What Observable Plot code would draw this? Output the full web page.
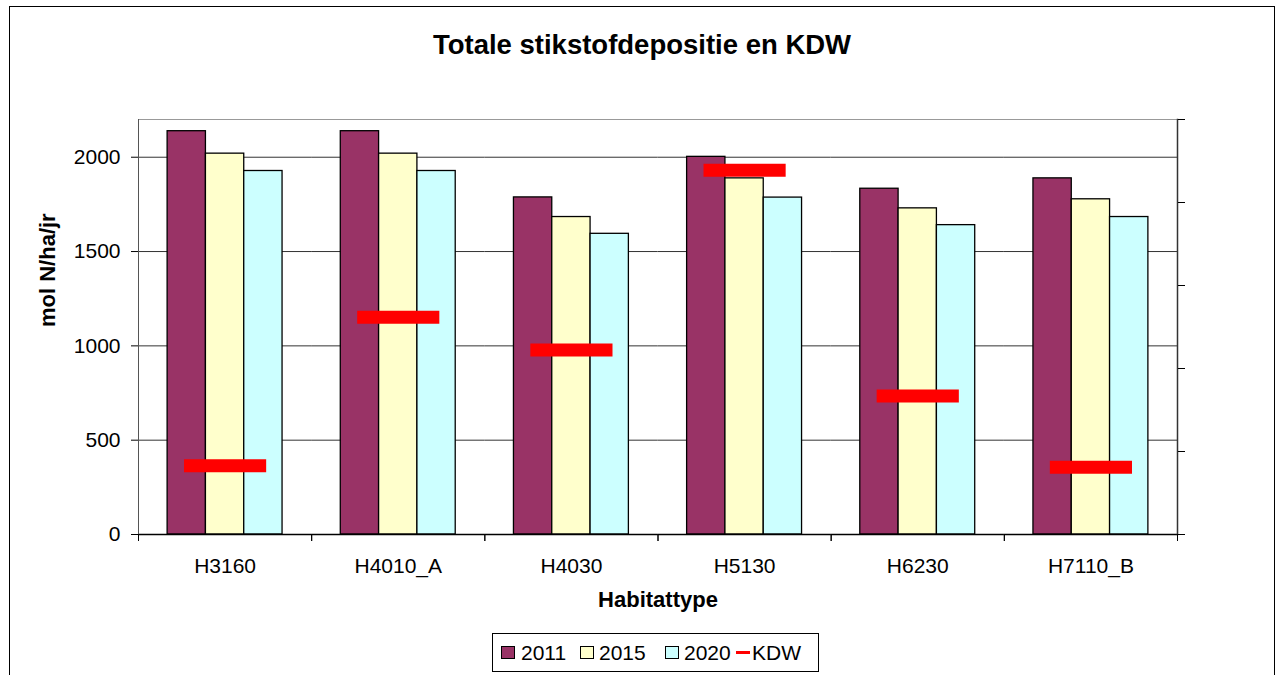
<!DOCTYPE html>
<html>
<head>
<meta charset="utf-8">
<script src="https://cdn.jsdelivr.net/npm/d3@7"></script>
<script src="https://cdn.jsdelivr.net/npm/@observablehq/plot@0.6"></script>
<style>
  body { margin: 0; background: #fff; font-family: "Liberation Sans", Arial, sans-serif; }
  #wrap { position: relative; width: 1276px; height: 675px; overflow: hidden; background: #fff; }
  #border { position: absolute; left: 9px; top: 6px; width: 1264px; height: 720px; border: 1.5px solid #000; }
  #title { position: absolute; left: 9px; width: 1266px; top: 31px; text-align: center; font-weight: bold; font-size: 27.5px; line-height: 1; color: #000; }
  #chart { position: absolute; left: 0; top: 0; }
  #legend { position: absolute; left: 492px; top: 633px; width: 327px; height: 39px; border: 1px solid #000; box-sizing: border-box; background: #fff; }
  #legend .it { position: absolute; top: 0; height: 100%; display: flex; align-items: center; }
  #legend .sw { width: 12px; height: 11px; border: 1px solid #000; }
  #legend .ln { width: 14px; height: 3px; background: #ff0000; }
  #legend .tx { font-size: 21px; color: #000; }
</style>
</head>
<body>
<div id="wrap">
  <div id="border"></div>
  <div id="title">Totale stikstofdepositie en KDW</div>
  <div id="chart"></div>
  <div id="legend"></div>
</div>
<script>
// ---- data ----
const habitats = ["H3160", "H4010_A", "H4030", "H5130", "H6230", "H7110_B"];
const years = ["2011", "2015", "2020"];
const dep2011 = [2138, 2138, 1787, 2002, 1833, 1888];
const dep2015 = [2019, 2019, 1683, 1888, 1729, 1777];
const dep2020 = [1927, 1927, 1594, 1786, 1640, 1683];
const kdw = [365, 1152, 978, 1931, 734, 357];
const yTicks = [0, 500, 1000, 1500, 2000];
const rightTicks = [0, 440, 880, 1320, 1760, 2200];
const colors = ["#993366", "#FFFFCC", "#CCFFFF"];
const kdwColor = "#FF0000";

// ---- tables ----
const series = [dep2011, dep2015, dep2020];
const bars = habitats.flatMap((h, i) => years.map((yr, j) => ({habitat: h, year: yr, value: series[j][i]})));
const kdwData = habitats.map((h, i) => ({habitat: h, kdw: kdw[i]}));

const W = 1276, H = 620;
const mL = 138, mR = 99, mT = 119, mB = 86;
const bw = (W - mL - mR) / habitats.length;

const chart = Plot.plot({
  width: W, height: H,
  marginLeft: mL, marginRight: mR, marginTop: mT, marginBottom: mB,
  style: {fontFamily: "Liberation Sans, Arial, sans-serif", fontSize: "21px", color: "#000", background: "transparent"},
  fx: {domain: habitats, padding: 0, round: false},
  x: {domain: years, paddingInner: 0, paddingOuter: 0.76, round: false, axis: null},
  y: {domain: [0, 2200]},
  color: {domain: years, range: colors},
  marks: [
    Plot.gridY({ticks: yTicks.slice(1), stroke: "#333", strokeOpacity: 1, strokeWidth: 1}),
    Plot.frame({facet: "super", stroke: "#999", strokeWidth: 1}),
    Plot.barY(bars, {fx: "habitat", x: "year", y: "value", fill: "year", stroke: "#000", strokeWidth: 1.3}),
    Plot.ruleY([0], {stroke: "#000", strokeWidth: 1.5}),
    Plot.ruleY(kdwData, {fx: "habitat", y: "kdw", stroke: kdwColor, strokeWidth: 13, insetLeft: 46, insetRight: 45}),
    Plot.frame({facet: "super", anchor: "right", stroke: "#333", strokeWidth: 1.5}),
    Plot.frame({facet: "super", anchor: "left", stroke: "#555", strokeWidth: 1}),
    Plot.axisY({anchor: "left", ticks: yTicks, tickSize: 7, tickPadding: 11, tickFormat: d3.format("d"), label: null}),
    Plot.axisY({anchor: "right", ticks: rightTicks, tickSize: 7, tickFormat: () => "", label: null}),
    Plot.axisFx({anchor: "bottom", tickSize: 0, tickPadding: 24, label: null}),
    Plot.axisFx({anchor: "bottom", tickSize: 7, tickFormat: () => "", label: null, dx: -bw / 2}),
    Plot.axisFx({anchor: "bottom", tickSize: 7, tickFormat: () => "", label: null, dx: bw / 2}),
    Plot.text(["mol N/ha/jr"], {facet: "super", frameAnchor: "left", dx: -91, rotate: -90, fontWeight: "bold", fontSize: 22, text: d => d}),
    Plot.text(["Habitattype"], {facet: "super", frameAnchor: "bottom", dy: 72, fontWeight: "bold", fontSize: 22, text: d => d})
  ]
});
document.getElementById("chart").appendChild(chart);

// ---- legend ----
const legend = document.getElementById("legend");
const legendItems = [
  {label: years[0], color: colors[0], type: "sw", sx: 8, tx: 28},
  {label: years[1], color: colors[1], type: "sw", sx: 87, tx: 106},
  {label: years[2], color: colors[2], type: "sw", sx: 172, tx: 191},
  {label: "KDW", color: kdwColor, type: "ln", sx: 243, tx: 259}
];
for (const it of legendItems) {
  const s = document.createElement("div");
  s.className = "it";
  s.style.left = it.sx + "px";
  const m = document.createElement("div");
  m.className = it.type;
  m.style.background = it.color;
  s.appendChild(m);
  legend.appendChild(s);
  const t = document.createElement("div");
  t.className = "it";
  t.style.left = it.tx + "px";
  const tt = document.createElement("span");
  tt.className = "tx";
  tt.textContent = it.label;
  t.appendChild(tt);
  legend.appendChild(t);
}
</script>
</body>
</html>
